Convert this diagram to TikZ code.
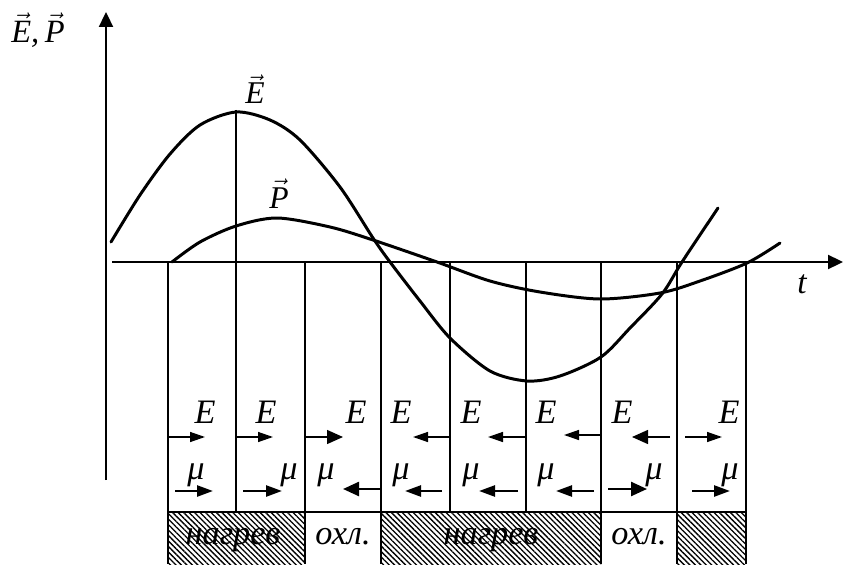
\documentclass[tikz,border=0pt]{standalone}
\usepackage[no-math]{fontspec}
\setmainfont{Liberation Serif}
\usetikzlibrary{arrows.meta,patterns.meta}
\newcommand{\vecit}[1]{$\vec{\mbox{\itshape #1}}$}
\tikzset{
  axis/.style={line width=1.3pt, -{Triangle[length=0.3cm,width=0.28cm]}},
  curve/.style={line width=1.7pt, line cap=round},
  cellline/.style={line width=1.1pt},
  earrow/.style={line width=0.8pt, -{Triangle[length=0.3cm,width=0.2cm]}},
  marrow/.style={line width=1.4pt, -{Triangle[length=0.32cm,width=0.22cm]}},
  bighead/.style={-{Triangle[length=0.32cm,width=0.28cm]}},
  lbl/.style={font=\fontsize{19.5}{22}\selectfont\itshape, inner sep=0pt, anchor=base},
  hatch/.style={pattern={Lines[angle=-45,distance=2.2pt,line width=0.75pt]}},
}

\begin{document}
\begin{tikzpicture}
  \useasboundingbox (0,0) rectangle (16.86,11.28);

  % Hatched strip
  \fill[hatch] (3.36,0) rectangle (6.10,1.04);
  \fill[hatch] (7.62,0) rectangle (12.02,1.04);
  \fill[hatch] (13.54,0) rectangle (14.92,1.04);

  % Axes
  \coordinate (ybot) at (2.12,1.68);
  \coordinate (ytop) at (2.12,11.04);
  \coordinate (xleft) at (2.24,6.04);
  \coordinate (xright) at (16.86,6.04);
  \draw[axis] (ybot) -- (ytop);
  \draw[axis] (xleft) -- (xright);
  \node[lbl, font=\fontsize{18.5}{22}\selectfont\itshape] (ylabel) at (0.76,10.42) {\vecit{E},\,\vecit{P}};
  \node[lbl, font=\fontsize{19}{22}\selectfont\itshape] (tlabel) at (16.04,5.42) {t};

  % Cell borders
  \draw[cellline] (3.36,6.04) -- (3.36,0);
  \draw[cellline] (4.72,9.08) -- (4.72,1.04);
  \draw[cellline] (6.10,6.04) -- (6.10,0);
  \draw[cellline] (7.62,6.04) -- (7.62,0);
  \draw[cellline] (9.00,6.04) -- (9.00,1.04);
  \draw[cellline] (10.52,6.04) -- (10.52,1.04);
  \draw[cellline] (12.02,6.04) -- (12.02,0);
  \draw[cellline] (13.54,6.04) -- (13.54,0);
  \draw[cellline] (14.92,6.04) -- (14.92,0);
  \draw[cellline] (3.36,1.04) -- (14.92,1.04);

  % Curves
  \draw[curve] plot[smooth] coordinates {(2.22,6.44) (2.80,7.38) (3.40,8.20) (4.00,8.78) (4.72,9.04) (5.40,8.88) (6.00,8.48) (6.80,7.54) (7.46,6.52) (7.80,6.04) (8.40,5.26) (9.00,4.52) (9.80,3.86) (10.54,3.66) (11.20,3.76) (12.02,4.14) (12.60,4.72) (13.24,5.40) (13.64,6.04) (14.36,7.12)};
  \draw[curve] plot[smooth] coordinates {(3.44,6.04) (4.00,6.44) (4.72,6.76) (5.54,6.92) (6.60,6.74) (7.46,6.48) (8.74,6.04) (9.80,5.66) (10.80,5.44) (12.00,5.30) (13.20,5.42) (14.00,5.66) (14.94,6.02) (15.60,6.42)};
  \node[lbl, font=\fontsize{18}{22}\selectfont\itshape] (Elabel) at (5.10,9.20) {\vecit{E}};
  \node[lbl, font=\fontsize{18}{22}\selectfont\itshape] (Plabel) at (5.58,7.12) {\vecit{P}};

  % Field E in the cells
  \node[lbl] (e1) at (4.10,2.82) {E};
  \node[lbl] (e2) at (5.32,2.82) {E};
  \node[lbl] (e3) at (7.12,2.82) {E};
  \node[lbl] (e4) at (8.02,2.82) {E};
  \node[lbl] (e5) at (9.42,2.82) {E};
  \node[lbl] (e6) at (10.92,2.82) {E};
  \node[lbl] (e7) at (12.44,2.82) {E};
  \node[lbl] (e8) at (14.58,2.82) {E};
  \draw[earrow] (3.36,2.54) -- (4.10,2.54);
  \draw[earrow] (4.72,2.54) -- (5.46,2.54);
  \draw[earrow, bighead] (6.10,2.54) -- (6.86,2.54);
  \draw[earrow] (9.00,2.54) -- (8.26,2.54);
  \draw[earrow] (10.52,2.54) -- (9.76,2.54);
  \draw[earrow] (12.02,2.58) -- (11.28,2.58);
  \draw[earrow, bighead] (13.40,2.54) -- (12.64,2.54);
  \draw[earrow] (13.70,2.54) -- (14.44,2.54);

  % Moment mu in the cells
  \node[lbl] (m1) at (3.92,1.70) {μ};
  \node[lbl] (m2) at (5.78,1.70) {μ};
  \node[lbl] (m3) at (6.52,1.70) {μ};
  \node[lbl] (m4) at (8.02,1.70) {μ};
  \node[lbl] (m5) at (9.42,1.70) {μ};
  \node[lbl] (m6) at (10.92,1.70) {μ};
  \node[lbl] (m7) at (13.08,1.70) {μ};
  \node[lbl] (m8) at (14.60,1.70) {μ};
  \draw[marrow] (3.50,1.46) -- (4.26,1.46);
  \draw[marrow] (4.86,1.46) -- (5.64,1.46);
  \draw[marrow, bighead] (7.62,1.50) -- (6.86,1.50);
  \draw[marrow] (8.84,1.46) -- (8.10,1.46);
  \draw[marrow] (10.36,1.46) -- (9.58,1.46);
  \draw[marrow] (11.88,1.46) -- (11.12,1.46);
  \draw[marrow, bighead] (12.16,1.50) -- (12.94,1.50);
  \draw[marrow] (13.84,1.46) -- (14.60,1.46);

  % Strip labels
  \node[lbl] (heat1) at (4.66,0.40) {нагрев};
  \node[lbl] (cool1) at (6.86,0.40) {охл.};
  \node[lbl] (heat2) at (9.82,0.40) {нагрев};
  \node[lbl] (cool2) at (12.78,0.40) {охл.};
\end{tikzpicture}
\end{document}
